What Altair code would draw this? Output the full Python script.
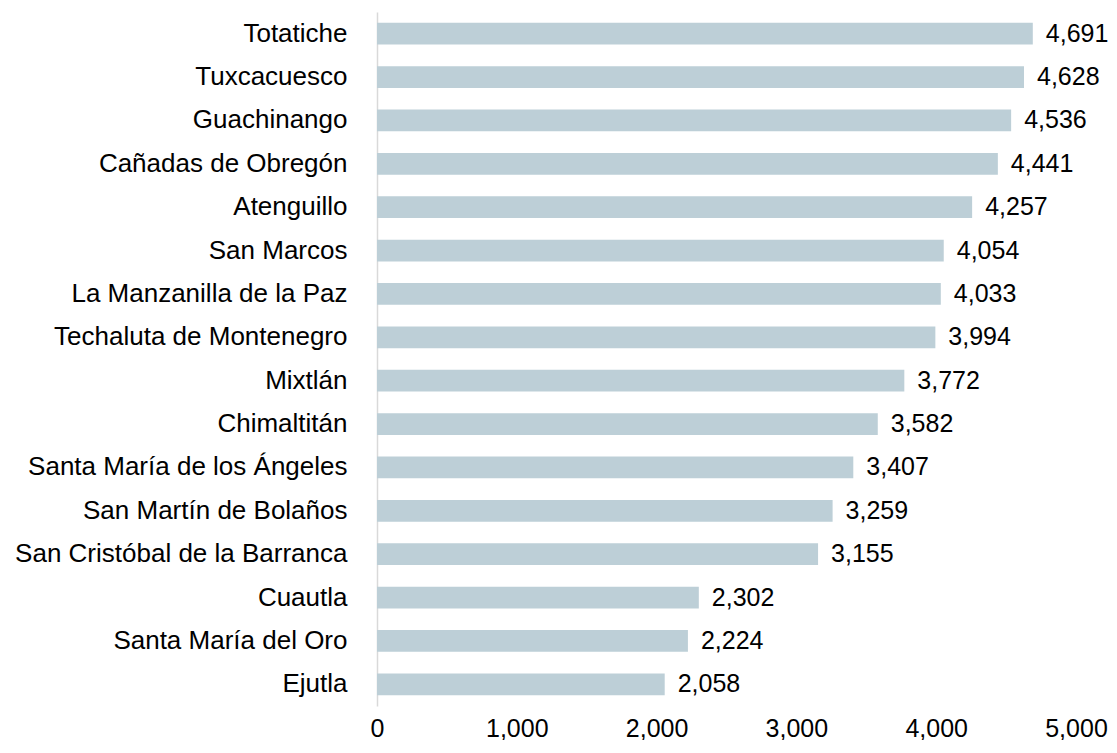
import altair as alt
import pandas as pd

municipios = [
    "Totatiche", "Tuxcacuesco", "Guachinango", "Cañadas de Obregón", "Atenguillo",
    "San Marcos", "La Manzanilla de la Paz", "Techaluta de Montenegro", "Mixtlán",
    "Chimaltitán", "Santa María de los Ángeles", "San Martín de Bolaños",
    "San Cristóbal de la Barranca", "Cuautla", "Santa María del Oro", "Ejutla",
]
valores = [4691, 4628, 4536, 4441, 4257, 4054, 4033, 3994, 3772, 3582, 3407, 3259, 3155, 2302, 2224, 2058]
x_ticks = [0, 1000, 2000, 3000, 4000, 5000]

df = pd.DataFrame({"municipio": municipios, "valor": valores})

FONT = "Liberation Sans"
FS_CAT = 26
FS_NUM = 25

y = alt.Y("municipio:N", sort=municipios,
          scale=alt.Scale(paddingInner=0.5, paddingOuter=0.25),
          axis=alt.Axis(title=None, labelFont=FONT, labelFontSize=FS_CAT, labelColor="#000000",
                        ticks=False, domain=True, domainColor="#D9D9D9", domainWidth=1.5,
                        labelPadding=30, labelLimit=400))
x = alt.X("valor:Q", scale=alt.Scale(domain=[0, 5000], nice=False),
          axis=alt.Axis(title=None, values=x_ticks, format=",d", labelFont=FONT, labelFontSize=FS_NUM,
                        labelColor="#000000", ticks=False, domain=False, grid=False,
                        labelPadding=10, labelFlush=False))

bars = alt.Chart(df).mark_bar(color="#BDCFD7").encode(x=x, y=y)
labels = alt.Chart(df).mark_text(align="left", baseline="middle", dx=13, font=FONT,
                                 fontSize=FS_NUM, color="#000000").encode(
    x="valor:Q", y=alt.Y("municipio:N", sort=municipios), text=alt.Text("valor:Q", format=",d"))

chart = (bars + labels).properties(
    width=699, height=694,
    background="#FFFFFF",
    autosize=alt.AutoSizeParams(type="none"),
    padding={"left": 369, "top": 4, "right": 33, "bottom": 34},
).configure_view(strokeWidth=0, stroke="transparent")

chart.save("out.html", embed_options={"renderer": "svg", "actions": False})
